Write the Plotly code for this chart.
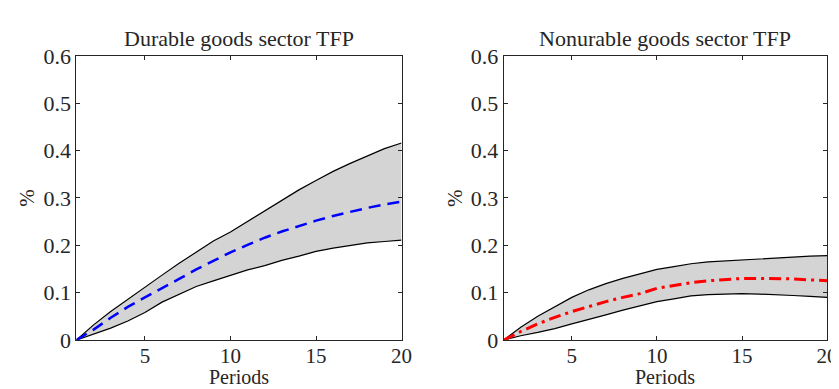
import plotly.graph_objects as go

periods = list(range(1, 21))

dur_upper = [0, 0.032, 0.060, 0.086, 0.111, 0.137, 0.162, 0.186, 0.209, 0.228,
             0.250, 0.273, 0.295, 0.317, 0.337, 0.356, 0.373, 0.389, 0.404, 0.416]
dur_lower = [0, 0.012, 0.025, 0.040, 0.058, 0.080, 0.096, 0.113, 0.125, 0.137,
             0.148, 0.157, 0.168, 0.177, 0.187, 0.194, 0.200, 0.205, 0.208, 0.211]
dur_mid = [0, 0.022, 0.047, 0.070, 0.090, 0.109, 0.129, 0.149, 0.167, 0.185,
           0.201, 0.216, 0.229, 0.241, 0.252, 0.262, 0.271, 0.279, 0.286, 0.292]

non_upper = [0, 0.027, 0.050, 0.070, 0.090, 0.106, 0.119, 0.130, 0.140, 0.149,
             0.155, 0.161, 0.165, 0.167, 0.170, 0.172, 0.174, 0.176, 0.177, 0.178]
non_lower = [0, 0.009, 0.016, 0.024, 0.034, 0.043, 0.053, 0.063, 0.072, 0.081,
             0.087, 0.093, 0.096, 0.097, 0.098, 0.097, 0.096, 0.094, 0.092, 0.090]
non_mid = [0, 0.018, 0.034, 0.048, 0.060, 0.071, 0.081, 0.090, 0.098, 0.109,
           0.115, 0.121, 0.125, 0.128, 0.130, 0.130, 0.130, 0.129, 0.127, 0.125]

titles = ["Durable goods sector TFP", "Nonurable goods sector TFP"]
x_ticks = [5, 10, 15, 20]
y_ticks = [0, 0.1, 0.2, 0.3, 0.4, 0.5, 0.6]
y_tick_text = ["0", "0.1", "0.2", "0.3", "0.4", "0.5", "0.6"]

FONT = "Liberation Serif"
TXT = "#262626"

fig = go.Figure()

def add_band(lower, upper, mid, color, dash, xa, ya, width):
    fig.add_trace(go.Scatter(x=periods, y=lower, mode="lines",
                             line=dict(color="black", width=1.2),
                             xaxis=xa, yaxis=ya, showlegend=False, hoverinfo="skip"))
    fig.add_trace(go.Scatter(x=periods, y=upper, mode="lines", fill="tonexty",
                             fillcolor="#d4d4d4",
                             line=dict(color="black", width=1.2),
                             xaxis=xa, yaxis=ya, showlegend=False, hoverinfo="skip"))
    fig.add_trace(go.Scatter(x=periods, y=mid, mode="lines",
                             line=dict(color=color, width=width, dash=dash),
                             xaxis=xa, yaxis=ya, showlegend=False))

add_band(dur_lower, dur_upper, dur_mid, "#0000ff", "12px,7px", "x", "y", 2.5)
add_band(non_lower, non_upper, non_mid, "#ff0000", "12px,5px,3px,5px", "x2", "y2", 3)

xd1 = [69.3 / 839, 398.3 / 839]
xd2 = [501.7 / 839, 829.0 / 839]
yd = [1 - 342.0 / 389, 1 - 38.3 / 389]

axis_common = dict(showline=True, linecolor=TXT, linewidth=1, mirror="allticks",
                   ticks="inside", ticklen=4, tickcolor=TXT, showgrid=False,
                   zeroline=False)
yfont = dict(family=FONT, size=22, color=TXT)
xfont = dict(family=FONT, size=21, color=TXT)

fig.update_layout(
    width=839, height=389,
    margin=dict(l=0, r=0, t=0, b=0),
    paper_bgcolor="white", plot_bgcolor="white",
    xaxis=dict(domain=xd1, range=[1, 20], tickvals=x_ticks, anchor="y",
               tickfont=xfont, ticklabelstandoff=-3, **axis_common),
    yaxis=dict(domain=yd, range=[0, 0.6], tickvals=y_ticks, ticktext=y_tick_text,
               anchor="x", tickfont=yfont, **axis_common),
    xaxis2=dict(domain=xd2, range=[1, 20], tickvals=x_ticks, anchor="y2",
                tickfont=xfont, ticklabelstandoff=-3, **axis_common),
    yaxis2=dict(domain=yd, range=[0, 0.6], tickvals=y_ticks, ticktext=y_tick_text,
                anchor="x2", tickfont=yfont, **axis_common),
)

for i, (xd, title) in enumerate(zip([xd1, xd2], titles)):
    cx = (xd[0] + xd[1]) / 2
    fig.add_annotation(text=title, x=cx, y=1 - 20 / 389, xref="paper", yref="paper",
                       showarrow=False, font=dict(family=FONT, size=22, color=TXT),
                       xanchor="center", yanchor="middle")
    fig.add_annotation(text="Periods", x=cx, y=0, xref="paper", yref="paper",
                       showarrow=False, font=dict(family=FONT, size=20, color=TXT),
                       xanchor="center", yanchor="bottom", yshift=-5, borderpad=0)
    fig.add_annotation(text="%", x=(xd[0] * 839 - 50) / 839, y=1 - 190 / 389,
                       xref="paper", yref="paper", textangle=-90,
                       showarrow=False, font=dict(family=FONT, size=21, color=TXT),
                       xanchor="center", yanchor="middle")

fig.write_html("out.html")
